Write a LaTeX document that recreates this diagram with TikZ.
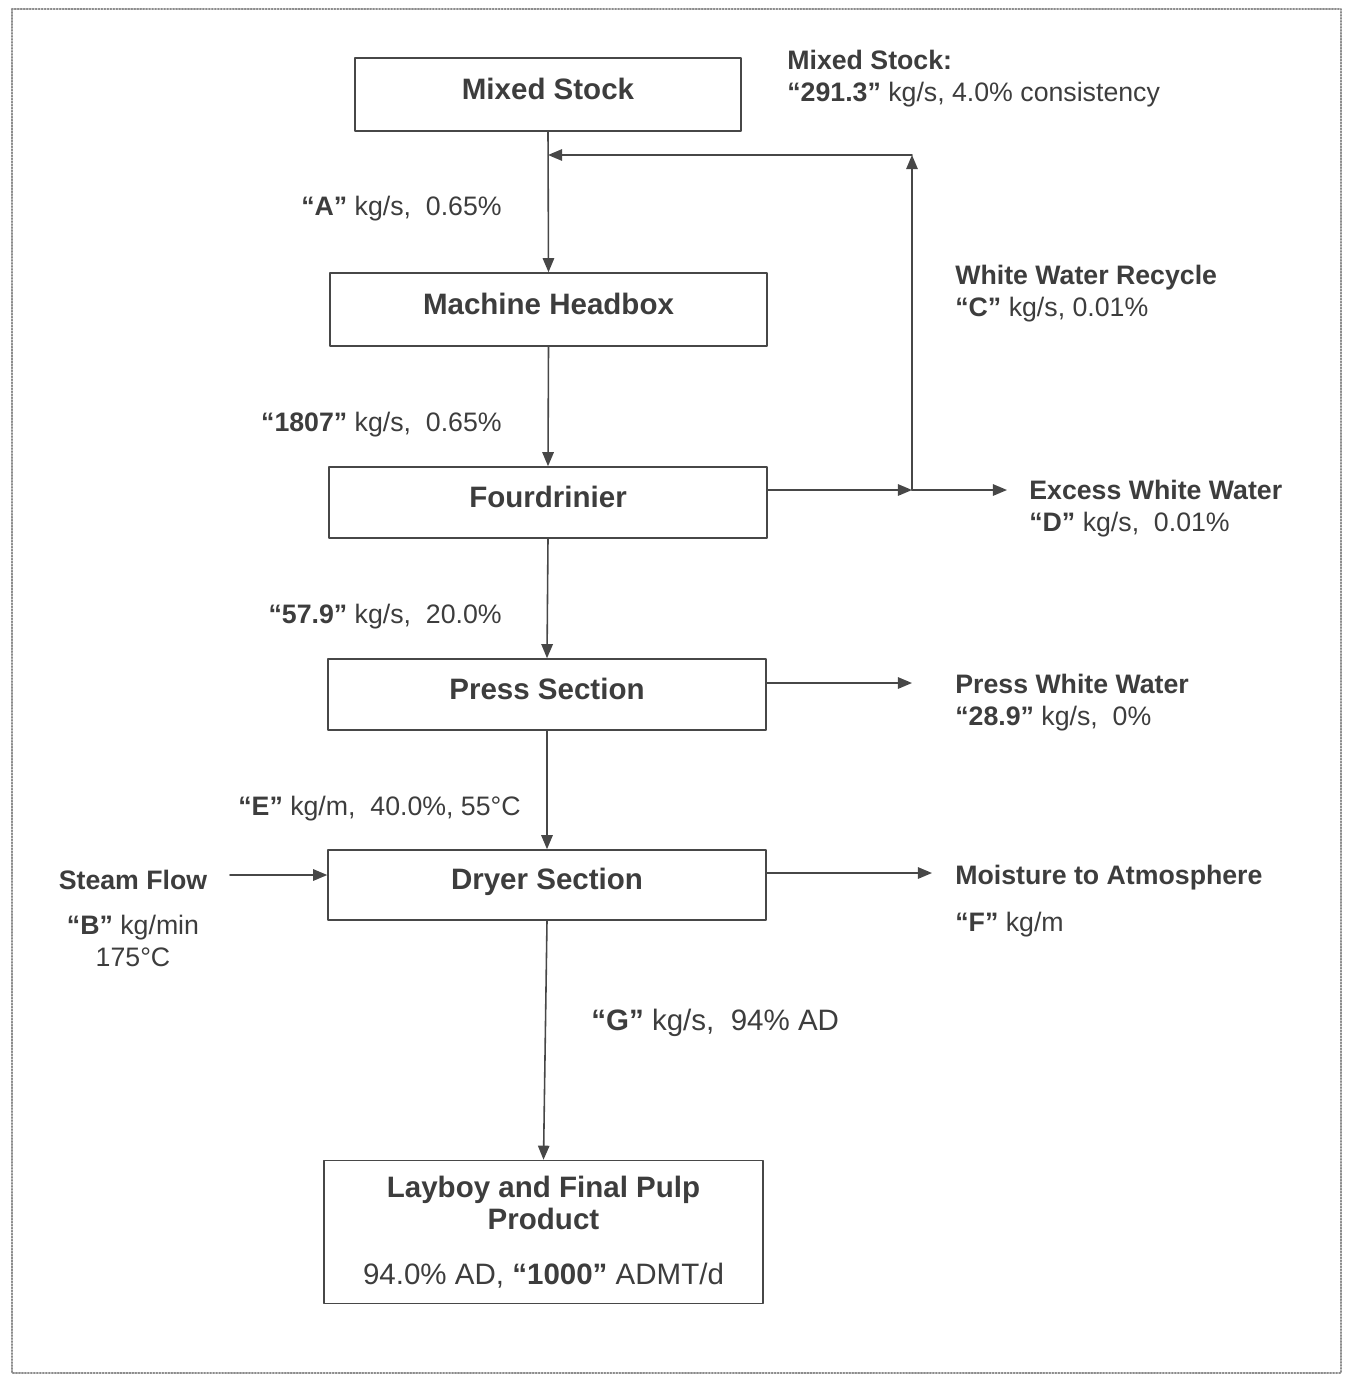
\documentclass[tikz,border=0pt]{standalone}
\usepackage{fontspec}
\setmainfont{Liberation Sans}
\usetikzlibrary{arrows.meta}
\definecolor{txtgray}{rgb}{0.24,0.24,0.24}
\definecolor{lngray}{rgb}{0.28,0.28,0.28}
\definecolor{frmgray}{rgb}{0.55,0.55,0.55}

\begin{document}
\begin{tikzpicture}[x=0.02cm,y=-0.02cm,line cap=round,line join=round,
  every node/.style={font=\fontsize{15.2}{18.2}\selectfont,text=txtgray},
  unit/.style={draw=lngray,line width=0.9pt,minimum width=8.76cm,minimum height=1.42cm,inner sep=0pt,
    text height=12pt,text depth=6.8pt,font=\fontsize{16.8}{18.4}\selectfont\bfseries},
  lbl/.style={inner sep=0pt,align=left,anchor=west},
  flow/.style={draw=lngray,line width=0.9pt,-{Triangle[length=8pt,width=6.5pt]}}]
\useasboundingbox (0,0) rectangle (1345,1376);
\draw[frmgray,line width=1.2pt,dash pattern=on 0.6pt off 1.1pt] (12,9) rectangle (1341,1373);
% process units
\node[unit,minimum width=7.72cm,minimum height=1.46cm] (stock) at (548,94.5) {Mixed Stock};
\node[unit,minimum width=8.74cm,minimum height=1.46cm] (headbox) at (548.5,309.5) {Machine Headbox};
\node[unit] (fourdr) at (548,502.5) {Fourdrinier};
\node[unit] (press) at (547,694.5) {Press Section};
\node[unit,minimum height=1.40cm] (dryer) at (547,885) {Dryer Section};
\node[draw=lngray,line width=0.9pt,minimum width=8.78cm,minimum height=2.86cm,inner sep=0pt,align=center,
  font=\fontsize{16.8}{18.4}\selectfont\bfseries] (layboy) at (543.5,1232)
  {Layboy and Final Pulp\\Product\\[13pt]\mdseries 94.0\% AD, \textbf{“1000”} ADMT/d};
% stream labels
\node[lbl] (stocklbl) at (787,79) {\textbf{Mixed Stock:}\\\textbf{“291.3”} kg/s, 4.0\% consistency};
\node[inner sep=0pt,anchor=east] (albl) at (502,209) {\textbf{“A”} kg/s,\ \ 0.65\%};
\node[lbl] (recyclbl) at (955,294) {\textbf{White Water Recycle}\\\textbf{“C”} kg/s, 0.01\%};
\node[inner sep=0pt,anchor=east] (flowlbl) at (502,425) {\textbf{“1807”} kg/s,\ \ 0.65\%};
\node[lbl] (excesslbl) at (1029,509) {\textbf{Excess White Water}\\\textbf{“D”} kg/s,\ \ 0.01\%};
\node[inner sep=0pt,anchor=east] (weblbl) at (502,617) {\textbf{“57.9”} kg/s,\ \ 20.0\%};
\node[lbl] (presslbl) at (955,703) {\textbf{Press White Water}\\\textbf{“28.9”} kg/s,\ \ 0\%};
\node[inner sep=0pt,anchor=east] (elbl) at (521,809) {\textbf{“E”} kg/m,\ \ 40.0\%, 55°C};
\node[inner sep=0pt,font=\fontsize{15.2}{18.2}\selectfont\bfseries] (steamlbl) at (133,880) {Steam Flow};
\node[inner sep=0pt,align=center] (blbl) at (133,941) {\textbf{“B”} kg/min\\175°C};
\node[lbl] (moistlbl) at (955,878) {\textbf{Moisture to Atmosphere}};
\node[lbl] (flbl) at (955,925) {\textbf{“F”} kg/m};
\node[inner sep=0pt,anchor=west,font=\fontsize{16.8}{18.4}\selectfont] (glbl) at (591,1023) {\textbf{“G”} kg/s,\ \ 94\% AD};
% junctions and free ends
\coordinate (junc) at (912,490);
\coordinate (rtop) at (912,155);
\coordinate (dout) at (1007,490);
\coordinate (pout) at (912,683);
\coordinate (sin) at (230,875);
\coordinate (mout) at (932,873);
% main line
\draw[flow] (stock.south) -- (headbox.north);
\draw[flow] (headbox.south) -- (fourdr.north);
\draw[flow] (fourdr.south) -- (press.north);
\draw[flow] (press.south) -- (dryer.north);
\draw[flow] (dryer.south) -- (layboy.north);
% white water
\draw[flow] (fourdr.east |- junc) -- (junc);
\draw[flow] (junc) -- (dout);
\draw[flow] (junc) -- (rtop);
\draw[flow] (rtop) -- (stock.south |- rtop);
\draw[flow] (press.east |- pout) -- (pout);
% dryer
\draw[flow] (sin) -- (dryer.west |- sin);
\draw[flow] (dryer.east |- mout) -- (mout);
\end{tikzpicture}
\end{document}
